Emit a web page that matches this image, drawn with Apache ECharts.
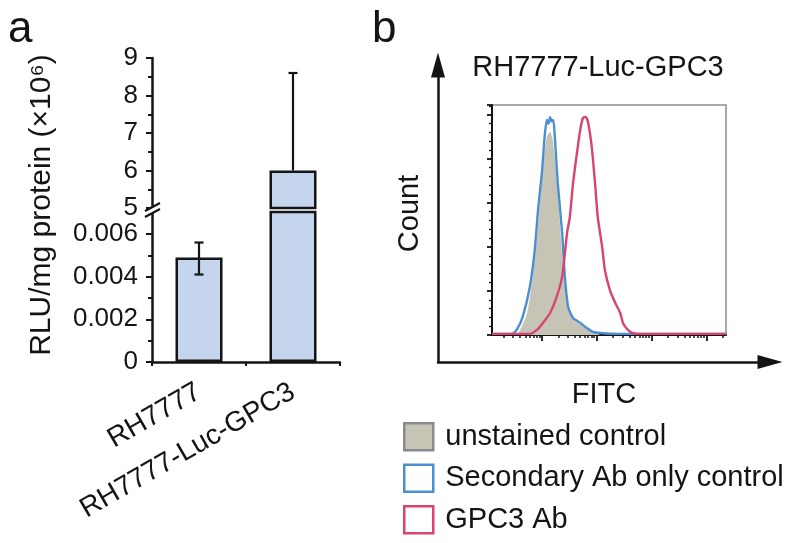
<!DOCTYPE html>
<html><head><meta charset="utf-8">
<script src="https://cdn.jsdelivr.net/npm/echarts@6/dist/echarts.min.js"></script>
<style>html,body{margin:0;padding:0;background:#fff}#c{width:800px;height:543px}</style>
</head><body><div id="c"></div>
<script>
// ---------- Panel a data (RLU/mg protein, ×10^6) ----------
const categories = ['RH7777', 'RH7777-Luc-GPC3'];
const barValues = [0.0049, 6.0];
const errLow = [0.0041, 6.0];
const errHigh = [0.0056, 8.6];
const upperRange = [5, 9];
const lowerRange = [0, 0.00703];
const lowerTicks = [0, 0.002, 0.004, 0.006];
const lowerMinorTicks = [0.001, 0.003, 0.005];

// ---------- Panel b data (x = log10 FITC, y = % of mode) ----------
const unstainedX = [0.56, 0.73, 0.84, 0.93, 1.02, 1.09, 1.15, 1.20, 1.27, 1.33, 1.38, 1.46, 1.57, 1.70, 1.88, 2.06];
const unstainedY = [0, 9.8, 28, 49.2, 76.5, 90.1, 92.4, 88.6, 72, 50.8, 32.6, 15, 7, 5, 2, 0];
const secondaryX = [0.09, 0.45, 0.54, 0.65, 0.78, 0.87, 0.93, 1.00, 1.05, 1.09, 1.12, 1.15, 1.18, 1.21, 1.24, 1.29, 1.37, 1.42, 1.48, 1.57, 1.70, 1.82, 1.93, 2.06, 2.43, 4.36];
const secondaryY = [0.5, 0.5, 2.3, 8.2, 21.8, 38.6, 56.8, 73.6, 90, 97.7, 96, 99, 97, 97.7, 88.6, 69.1, 46.4, 26.4, 12.7, 7.7, 5.5, 3.2, 1.4, 0.9, 0.5, 0.5];
const gpc3X = [0.09, 0.78, 0.91, 1.02, 1.15, 1.27, 1.37, 1.42, 1.46, 1.51, 1.57, 1.64, 1.70, 1.75, 1.80, 1.84, 1.91, 1.97, 2.02, 2.10, 2.15, 2.24, 2.34, 2.43, 2.48, 2.57, 2.66, 2.79, 4.36];
const gpc3Y = [0.5, 0.5, 2.3, 5.5, 10, 17.3, 26.4, 37.3, 46.4, 53.6, 69.1, 82.7, 93.2, 98.6, 99.1, 97, 85.5, 69.1, 53.6, 40, 29.5, 20.5, 14.5, 10, 5.5, 2.3, 0.9, 0.5, 0.5];
const fitcRange = [0.09, 4.36];
const fitcMajorTicks = [1, 2, 3, 4];
const countRange = [0, 104.5];
const legendNames = ['unstained control', 'Secondary Ab only control', 'GPC3 Ab'];

// ---------- helpers ----------
const FONT = "'Liberation Sans', Arial, Helvetica, sans-serif";
const INK = '#141414';
const zip = (xs, ys) => xs.map((x, i) => [x, ys[i]]);
const minorLog = [];
for (let d = 0; d < 5; d++) for (let k = 2; k <= 9; k++) {
  const v = d + Math.log10(k);
  if (v > fitcRange[0] && v < fitcRange[1]) minorLog.push(v);
}
const errUpper = [], errLower = [];
categories.forEach((c, i) => {
  const item = [i, errLow[i], errHigh[i], barValues[i]];
  if (errHigh[i] >= upperRange[0]) errUpper.push(item); else errLower.push(item);
});
function renderErr(params, api) {
  const x = api.value(0), lo = api.value(1), hi = api.value(2), mid = api.value(3);
  const pHi = api.coord([x, hi]), pLo = api.coord([x, lo]);
  const st = { stroke: INK, lineWidth: 2.2 };
  const ch = [{ type: 'line', shape: { x1: pHi[0], y1: pHi[1], x2: pLo[0], y2: pLo[1] }, style: st }];
  const cw = 4.5;
  if (hi !== mid) ch.push({ type: 'line', shape: { x1: pHi[0] - cw, y1: pHi[1], x2: pHi[0] + cw, y2: pHi[1] }, style: st });
  if (lo !== mid) ch.push({ type: 'line', shape: { x1: pLo[0] - cw, y1: pLo[1], x2: pLo[0] + cw, y2: pLo[1] }, style: st });
  return { type: 'group', children: ch };
}
const axLine = { lineStyle: { color: INK, width: 2.5 } };
const tickSt = { lineStyle: { color: INK, width: 2 } };
const barStyle = { color: '#c5d5ee', borderColor: INK, borderWidth: 2.5 };

const chart = echarts.init(document.getElementById('c'), null, { renderer: 'canvas' });
chart.setOption({
  backgroundColor: '#fff',
  animation: false,
  textStyle: { fontFamily: FONT, color: INK },
  grid: [
    { left: 152, right: 460, top: 58, height: 150, outerBoundsMode: 'none' },
    { left: 152, right: 460, top: 212, height: 150, outerBoundsMode: 'none' },
    { left: 492, right: 74, top: 105, bottom: 208, show: true, borderColor: '#8c8c8c', borderWidth: 1.5, outerBoundsMode: 'none' },
    { left: 438, right: 30, top: 65, bottom: 181, outerBoundsMode: 'none' }
  ],
  xAxis: [
    { gridIndex: 0, type: 'category', data: categories, show: false },
    { gridIndex: 1, type: 'category', data: categories, boundaryGap: true,
      axisLine: axLine, axisTick: { show: true, length: 4, ...tickSt },
      axisLabel: { rotate: 30, fontSize: 28, margin: 28, color: INK, fontFamily: FONT } },
    { gridIndex: 2, type: 'value', min: fitcRange[0], max: fitcRange[1], position: 'bottom',
      axisLine: { lineStyle: { color: INK, width: 2 } },
      axisTick: { show: true, length: 6, customValues: fitcMajorTicks, lineStyle: { color: INK, width: 1.8 } },
      axisLabel: { show: false }, splitLine: { show: false } },
    { gridIndex: 2, type: 'value', min: fitcRange[0], max: fitcRange[1], position: 'bottom',
      axisLine: { show: false },
      axisTick: { show: true, length: 3, customValues: minorLog, lineStyle: { color: INK, width: 1.5 } },
      axisLabel: { show: false }, splitLine: { show: false } },
    { gridIndex: 3, type: 'value', min: 0, max: 1, position: 'bottom',
      axisLine: { show: true, symbol: ['none', 'triangle'], symbolSize: [14, 25], lineStyle: { color: INK, width: 2.5 } },
      axisTick: { show: false }, axisLabel: { show: false }, splitLine: { show: false },
      name: 'FITC', nameLocation: 'middle', nameGap: 18, nameTextStyle: { fontSize: 29, color: INK, fontFamily: FONT } }
  ],
  yAxis: [
    { gridIndex: 0, type: 'value', min: upperRange[0], max: upperRange[1], interval: 1, position: 'left',
      axisLine: { show: true, ...axLine }, axisTick: { show: true, length: 6, ...tickSt },
      minorTick: { show: true, splitNumber: 2, length: 4, ...tickSt },
      axisLabel: { fontSize: 26, margin: 14, color: INK, fontFamily: FONT }, splitLine: { show: false } },
    { gridIndex: 1, type: 'value', min: lowerRange[0], max: lowerRange[1], position: 'left',
      axisLine: { show: true, ...axLine }, axisTick: { show: true, length: 6, customValues: lowerTicks, ...tickSt },
      axisLabel: { fontSize: 26, margin: 14, color: INK, fontFamily: FONT, customValues: lowerTicks,
        formatter: v => (v === 0 ? '0' : v.toFixed(3)) }, splitLine: { show: false } },
    { gridIndex: 1, type: 'value', min: lowerRange[0], max: lowerRange[1], position: 'left',
      axisLine: { show: false }, axisTick: { show: true, length: 4, customValues: lowerMinorTicks, ...tickSt },
      axisLabel: { show: false }, splitLine: { show: false } },
    { gridIndex: 2, type: 'value', min: countRange[0], max: countRange[1], interval: 20, position: 'left',
      axisLine: { show: true, lineStyle: { color: INK, width: 2 } },
      axisTick: { show: true, length: 5, lineStyle: { color: INK, width: 1.8 } },
      minorTick: { show: true, splitNumber: 5, length: 3, lineStyle: { color: INK, width: 1.3 } },
      axisLabel: { show: false }, splitLine: { show: false } },
    { gridIndex: 3, type: 'value', min: 0, max: 1, position: 'left',
      axisLine: { show: true, symbol: ['none', 'triangle'], symbolSize: [14, 25], lineStyle: { color: INK, width: 2.5 } },
      axisTick: { show: false }, axisLabel: { show: false }, splitLine: { show: false },
      name: 'Count', nameLocation: 'middle', nameGap: 14, nameRotate: 90, nameTextStyle: { fontSize: 29, color: INK, fontFamily: FONT } }
  ],
  legend: {
    orient: 'vertical', left: 403, top: 422, itemWidth: 29, itemHeight: 27, itemGap: 12, padding: 0,
    textStyle: { fontSize: 29, color: INK, fontFamily: FONT, padding: [0, 0, 0, 7] },
    data: [
      { name: legendNames[0], icon: 'rect', itemStyle: { color: '#c6c5b5', borderColor: '#8a8a8a', borderWidth: 2.5 } },
      { name: legendNames[1], icon: 'rect', itemStyle: { color: '#fff', borderColor: '#4b8fd1', borderWidth: 2.5 } },
      { name: legendNames[2], icon: 'rect', itemStyle: { color: '#fff', borderColor: '#d8436f', borderWidth: 2.5 } }
    ]
  },
  series: [
    { type: 'bar', xAxisIndex: 1, yAxisIndex: 1, data: barValues, barWidth: '50%', itemStyle: barStyle, clip: true, z: 2 },
    { type: 'bar', xAxisIndex: 0, yAxisIndex: 0, data: barValues.map(v => (v >= upperRange[0] ? v : '-')), barWidth: '50%', itemStyle: barStyle, clip: true, z: 2 },
    { type: 'custom', xAxisIndex: 1, yAxisIndex: 1, data: errLower, renderItem: renderErr, z: 5 },
    { type: 'custom', xAxisIndex: 0, yAxisIndex: 0, data: errUpper, renderItem: renderErr, z: 1 },
    { name: legendNames[0], type: 'line', xAxisIndex: 2, yAxisIndex: 3, data: zip(unstainedX, unstainedY), showSymbol: false, symbol: 'none', smooth: 0.2,
      lineStyle: { width: 0 }, areaStyle: { color: '#c6c5b5', opacity: 1 }, itemStyle: { color: '#c6c5b5' }, z: 2 },
    { name: legendNames[1], type: 'line', xAxisIndex: 2, yAxisIndex: 3, data: zip(secondaryX, secondaryY), showSymbol: false, symbol: 'none', smooth: 0.2,
      lineStyle: { width: 2.4, color: '#4b8fd1' }, itemStyle: { color: '#4b8fd1' }, z: 3 },
    { name: legendNames[2], type: 'line', xAxisIndex: 2, yAxisIndex: 3, data: zip(gpc3X, gpc3Y), showSymbol: false, symbol: 'none', smooth: 0.2,
      lineStyle: { width: 2.4, color: '#d8436f' }, itemStyle: { color: '#d8436f' }, z: 4 }
  ],
  graphic: [
    { type: 'text', x: 8, y: 30, style: { text: 'a', font: '44px ' + FONT, fill: INK, verticalAlign: 'middle' } },
    { type: 'text', x: 372, y: 30, style: { text: 'b', font: '44px ' + FONT, fill: INK, verticalAlign: 'middle' } },
    { type: 'text', x: 42, y: 205, rotation: Math.PI / 2, style: { text: 'RLU/mg protein (×10⁶)', font: '30px ' + FONT, fill: INK, align: 'center', verticalAlign: 'middle' } },
    { type: 'text', x: 598, y: 68, style: { text: 'RH7777-Luc-GPC3', font: '29px ' + FONT, fill: INK, align: 'center', verticalAlign: 'middle' } },
    { type: 'polygon', z: 100, shape: { points: [[145, 211], [160, 203], [160, 209], [145, 217]] }, style: { fill: '#fff' } },
    { type: 'line', z: 101, shape: { x1: 145, y1: 211, x2: 160, y2: 203 }, style: { stroke: INK, lineWidth: 2 } },
    { type: 'line', z: 101, shape: { x1: 145, y1: 217, x2: 160, y2: 209 }, style: { stroke: INK, lineWidth: 2 } }
  ]
});
</script></body></html>
